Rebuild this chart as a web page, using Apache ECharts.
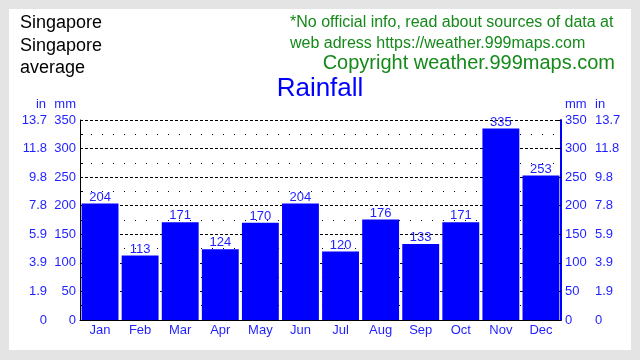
<!DOCTYPE html>
<html><head><meta charset="utf-8">
<script src="https://cdn.jsdelivr.net/npm/echarts@6/dist/echarts.min.js"></script>
<style>html,body{margin:0;padding:0;background:#e4e4e4}#c{width:640px;height:360px}</style>
</head><body><div id="c"></div>
<script>
var months = ['Jan','Feb','Mar','Apr','May','Jun','Jul','Aug','Sep','Oct','Nov','Dec'];
var rainfallMm = [204,113,171,124,170,204,120,176,133,171,335,253];
var mmTicks = [0,50,100,150,200,250,300,350];
var inTicks = ['0','1.9','3.9','5.9','7.8','9.8','11.8','13.7'];

var F = '"Liberation Sans", Arial, sans-serif';
var blue = '#0000ff';
var txtBlue = '#1f1fff';
var green = '#15891a';

var chart = echarts.init(document.getElementById('c'), null, {renderer:'canvas'});
function inFmt(v){ var i = mmTicks.indexOf(v); return i>=0 ? inTicks[i] : ''; }
var common = {min:0,max:350,interval:50};
chart.setOption({
  backgroundColor:'#e4e4e4',
  animation:false,
  textStyle:{fontFamily:F},
  graphic:[
    {type:'rect',shape:{x:9,y:9,width:622,height:341},style:{fill:'#ffffff'},z:-10},
    {type:'text',x:20,y:12,style:{text:'Singapore\nSingapore\naverage',font:'18px '+F,fill:'#000',lineHeight:22.5}},
    {type:'text',x:290,y:12,style:{text:'*No official info, read about sources of data at\nweb adress https://weather.999maps.com',font:'16px '+F,fill:green,lineHeight:21}},
    {type:'text',x:615,y:53,style:{text:'Copyright weather.999maps.com',font:'20px '+F,fill:green,align:'right'}},
    {type:'text',x:320,y:76,style:{text:'Rainfall',font:'26px '+F,fill:blue,align:'center'}},
    {type:'text',x:46,y:98,style:{text:'in',font:'13px '+F,fill:txtBlue,align:'right'}},
    {type:'text',x:76,y:98,style:{text:'mm',font:'13px '+F,fill:txtBlue,align:'right'}},
    {type:'text',x:565,y:98,style:{text:'mm',font:'13px '+F,fill:txtBlue}},
    {type:'text',x:595,y:98,style:{text:'in',font:'13px '+F,fill:txtBlue}}
  ],
  grid:{left:80,right:79,top:120,bottom:40},
  xAxis:{type:'category',data:months,
    axisLine:{show:true,lineStyle:{color:'#000',width:1}},
    axisTick:{show:false},
    axisLabel:{color:txtBlue,fontSize:13,fontFamily:F,margin:4}},
  yAxis:[
    Object.assign({type:'value',position:'left',
      axisLine:{show:true,lineStyle:{color:'#000'}},
      axisTick:{show:true,inside:true,length:3,lineStyle:{color:'#000'}},
      minorTick:{show:true,splitNumber:2,length:3,lineStyle:{color:'#000'}},
      axisLabel:{color:txtBlue,fontSize:13,fontFamily:F,margin:4},
      splitLine:{show:true,lineStyle:{color:'#000',type:[3,2],width:1}},
      minorSplitLine:{show:true,lineStyle:{color:'#000',type:[1,10],width:1}}
    },common),
    Object.assign({type:'value',position:'left',offset:29,
      axisLine:{show:false},axisTick:{show:false},splitLine:{show:false},
      axisLabel:{color:txtBlue,fontSize:13,fontFamily:F,margin:4,formatter:inFmt}
    },common),
    Object.assign({type:'value',position:'right',
      axisLine:{show:true,lineStyle:{color:blue,width:2}},
      axisTick:{show:true,inside:true,length:3,lineStyle:{color:'#000'}},
      axisLabel:{color:txtBlue,fontSize:13,fontFamily:F,margin:4},
      splitLine:{show:false}
    },common),
    Object.assign({type:'value',position:'right',offset:34,
      axisLine:{show:false},axisTick:{show:false},splitLine:{show:false},
      axisLabel:{color:txtBlue,fontSize:13,fontFamily:F,margin:0,formatter:inFmt}
    },common)
  ],
  series:[{type:'bar',data:rainfallMm,yAxisIndex:0,barCategoryGap:'8%',
    itemStyle:{color:blue},
    label:{show:true,position:'top',distance:0,color:txtBlue,fontSize:13,fontFamily:F}
  }]
});
</script></body></html>
